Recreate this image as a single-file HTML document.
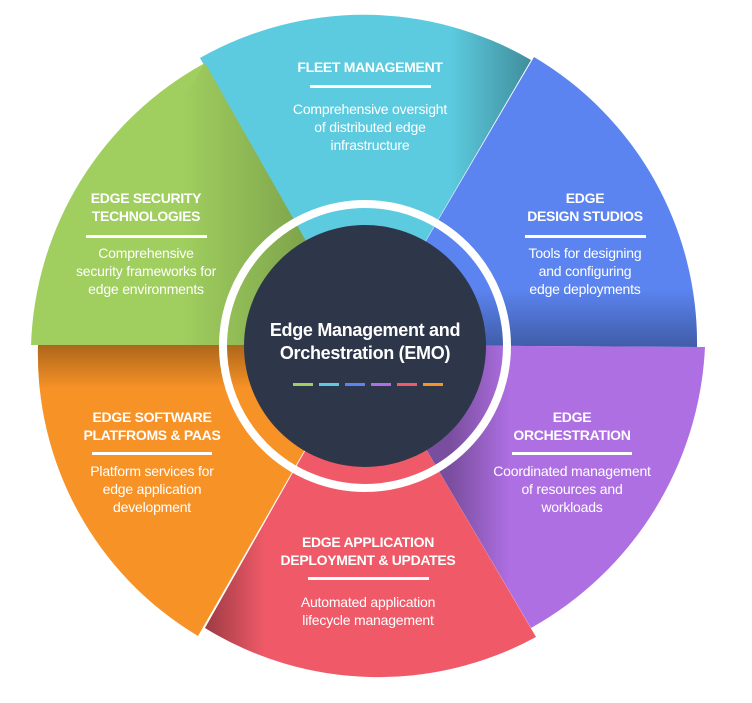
<!DOCTYPE html>
<html><head><meta charset="utf-8"><style>
html,body{margin:0;padding:0;background:#fff;}
svg{display:block;}
.t{font-family:"Liberation Sans",sans-serif;font-weight:bold;font-size:14px;fill:#fff;text-anchor:middle;letter-spacing:-0.3px;}
.d{font-family:"Liberation Sans",sans-serif;font-size:14px;fill:#fff;text-anchor:middle;letter-spacing:-0.2px;}
.c{font-family:"Liberation Sans",sans-serif;font-weight:bold;font-size:18px;fill:#fff;text-anchor:middle;letter-spacing:-0.3px;}
</style></head><body>
<svg width="752" height="703" viewBox="0 0 752 703" xmlns="http://www.w3.org/2000/svg">
<defs>
<linearGradient id="gs" gradientUnits="userSpaceOnUse" x1="180" y1="0" x2="300" y2="0"><stop offset="0" stop-color="#000" stop-opacity="0"/><stop offset="1" stop-color="#000" stop-opacity="0.2"/></linearGradient>
<linearGradient id="cs" gradientUnits="userSpaceOnUse" x1="450" y1="0" x2="530" y2="0"><stop offset="0" stop-color="#000" stop-opacity="0"/><stop offset="1" stop-color="#000" stop-opacity="0.3"/></linearGradient>
<linearGradient id="bs" x1="0" y1="0" x2="0" y2="1"><stop offset="0.8" stop-color="#000" stop-opacity="0"/><stop offset="1" stop-color="#000" stop-opacity="0.3"/></linearGradient>
<linearGradient id="os" x1="0" y1="0" x2="0" y2="1"><stop offset="0" stop-color="#000" stop-opacity="0.3"/><stop offset="0.15" stop-color="#000" stop-opacity="0"/></linearGradient>
<linearGradient id="rs" gradientUnits="userSpaceOnUse" x1="205" y1="0" x2="265" y2="0"><stop offset="0" stop-color="#000" stop-opacity="0.35"/><stop offset="1" stop-color="#000" stop-opacity="0"/></linearGradient>
<linearGradient id="ps" gradientUnits="userSpaceOnUse" x1="450" y1="0" x2="510" y2="0"><stop offset="0" stop-color="#000" stop-opacity="0.3"/><stop offset="1" stop-color="#000" stop-opacity="0"/></linearGradient>
</defs>
<!-- cyan -->
<path d="M365,345 L200,58 A332,332 0 0 1 531,60 Z" fill="#5ccbdf"/>
<path d="M365,345 L200,58 A332,332 0 0 1 531,60 Z" fill="url(#cs)"/>
<!-- green -->
<path d="M365,345 L31,345 A334,334 0 0 1 205,63 Z" fill="#a0cf5f"/>
<path d="M365,345 L205,63 L31,345 Z" fill="url(#gs)"/>
<!-- blue -->
<path d="M365,345 L534,57 A332,332 0 0 1 697,347 Z" fill="#5b84f0"/>
<path d="M365,345 L534,57 A332,332 0 0 1 697,347 Z" fill="url(#bs)"/>
<!-- orange -->
<path d="M365,345 L38,345 A328,328 0 0 0 198,636 Z" fill="#f79226"/>
<path d="M365,345 L38,345 A328,328 0 0 0 198,636 Z" fill="url(#os)"/>
<!-- red -->
<path d="M365,345 L205,628 A330,330 0 0 0 536,637 Z" fill="#f05a68"/>
<path d="M365,345 L205,628 A330,330 0 0 0 536,637 Z" fill="url(#rs)"/>
<!-- purple -->
<path d="M365,345 L705,347 A340,340 0 0 1 531,628 Z" fill="#ae6fe2"/>
<path d="M365,345 L705,347 A340,340 0 0 1 531,628 Z" fill="url(#ps)"/>
<!-- ring -->
<circle cx="365" cy="346" r="142" fill="none" stroke="#fff" stroke-width="8"/>
<circle cx="365" cy="346" r="121" fill="#2e3649"/>
<text class="c" x="365" y="336">Edge Management and</text>
<text class="c" x="365" y="359">Orchestration (EMO)</text>
<g>
<rect x="293" y="383" width="20" height="3" fill="#a0cf5f"/>
<rect x="319" y="383" width="20" height="3" fill="#5ccbdf"/>
<rect x="345" y="383" width="20" height="3" fill="#5b84f0"/>
<rect x="371" y="383" width="20" height="3" fill="#ae6fe2"/>
<rect x="397" y="383" width="20" height="3" fill="#f05a68"/>
<rect x="423" y="383" width="20" height="3" fill="#f79226"/>
</g>
<text class="t" x="370" y="72">FLEET MANAGEMENT</text>
<rect x="310" y="85" width="121" height="3" fill="#fff"/>
<text class="d" x="370" y="114">Comprehensive oversight</text>
<text class="d" x="370" y="132">of distributed edge</text>
<text class="d" x="370" y="150">infrastructure</text>
<text class="t" x="146" y="203">EDGE SECURITY</text>
<text class="t" x="146" y="221">TECHNOLOGIES</text>
<rect x="86" y="235" width="121" height="3" fill="#fff"/>
<text class="d" x="146" y="258">Comprehensive</text>
<text class="d" x="146" y="276">security frameworks for</text>
<text class="d" x="146" y="294">edge environments</text>
<text class="t" x="585" y="203">EDGE</text>
<text class="t" x="585" y="221">DESIGN STUDIOS</text>
<rect x="525" y="235" width="121" height="3" fill="#fff"/>
<text class="d" x="585" y="258">Tools for designing</text>
<text class="d" x="585" y="276">and configuring</text>
<text class="d" x="585" y="294">edge deployments</text>
<text class="t" x="152" y="422">EDGE SOFTWARE</text>
<text class="t" x="152" y="440">PLATFROMS &amp; PAAS</text>
<rect x="92" y="452" width="120" height="3" fill="#fff"/>
<text class="d" x="152" y="476">Platform services for</text>
<text class="d" x="152" y="494">edge application</text>
<text class="d" x="152" y="512">development</text>
<text class="t" x="572" y="422">EDGE</text>
<text class="t" x="572" y="440">ORCHESTRATION</text>
<rect x="512" y="452" width="120" height="3" fill="#fff"/>
<text class="d" x="572" y="476">Coordinated management</text>
<text class="d" x="572" y="494">of resources and</text>
<text class="d" x="572" y="512">workloads</text>
<text class="t" x="368" y="547">EDGE APPLICATION</text>
<text class="t" x="368" y="565">DEPLOYMENT &amp; UPDATES</text>
<rect x="308" y="577" width="121" height="3" fill="#fff"/>
<text class="d" x="368" y="607">Automated application</text>
<text class="d" x="368" y="625">lifecycle management</text>
</svg>
</body></html>
